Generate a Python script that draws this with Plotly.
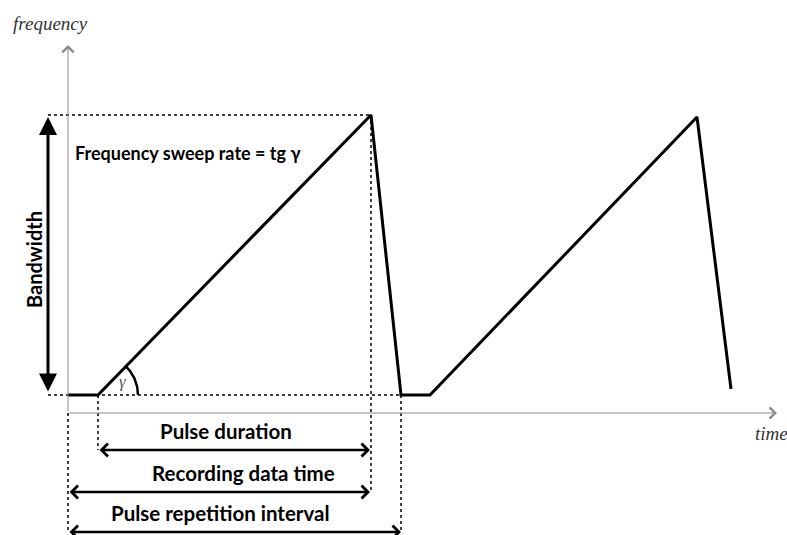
import numpy as np
import plotly.graph_objects as go

# chirp waveform (time, frequency) in drawing units
wave_t = [68, 98, 371, 401, 430, 697, 731]
wave_f = [140, 140, 420, 140, 140, 418, 146]

f_low, f_high = 140, 420
t_start, t_ramp, t_peak, t_end = 68, 98, 371, 401

# measurement arrows: (label, t_from, t_to, level)
spans = [
    ("Pulse duration", 98, 370, 85),
    ("Recording data time", 68, 370, 43),
    ("Pulse repetition interval", 68, 401, 3),
]
span_label_t = [226, 243, 220]
span_label_f = [104, 62, 22]

W, H = 787, 535
BOLD = "Lato"
SERIF = "Liberation Serif"

fig = go.Figure()

# dotted guide lines
dots = dict(color="black", width=1.5, dash="dot")
guides = [
    ((48, t_peak), (f_high, f_high)),
    ((48, t_end), (f_low, f_low)),
    ((t_start, t_start), (122, 3)),
    ((t_ramp, t_ramp), (f_low, 85)),
    ((t_peak, t_peak), (f_high, 43)),
    ((t_end, t_end), (f_low, 3)),
]
for xs, ys in guides:
    fig.add_trace(go.Scatter(x=list(xs), y=list(ys), mode="lines", line=dots,
                             hoverinfo="skip", showlegend=False))

# waveform
fig.add_trace(go.Scatter(x=wave_t, y=wave_f, mode="lines",
                         line=dict(color="black", width=3), showlegend=False))

# angle arc
r = 40
ang = np.arctan2(f_high - f_low, t_peak - t_ramp)
th = np.linspace(0, ang, 30)
fig.add_trace(go.Scatter(x=t_ramp + r * np.cos(th), y=f_low + r * np.sin(th), mode="lines",
                         line=dict(color="black", width=2.5), showlegend=False))


def arrow(x0, y0, x1, y1, head, width, color="black", size=1.0, both=False):
    fig.add_annotation(x=x1, y=y1, ax=x0, ay=y0, xref="x", yref="y", axref="x", ayref="y",
                       text="", showarrow=True, arrowhead=head, startarrowhead=head,
                       arrowwidth=width, arrowsize=size, startarrowsize=size,
                       arrowcolor=color, arrowside="end+start" if both else "end")


# axes
arrow(t_start, 122, 777, 122, 4, 1, "#8c8c8c", 2.2)
arrow(t_start, 122, t_start, 490, 4, 1, "#8c8c8c", 2.2)

# bandwidth arrow
arrow(48, 142, 48, 418, 2, 3, both=True, size=1.2)

for (label, a, b, lev), lt, lf in zip(spans, span_label_t, span_label_f):
    arrow(a, lev, b, lev, 4, 2.5, both=True)
    fig.add_annotation(x=lt, y=lf, text=f"<b>{label}</b>", showarrow=False,
                       font=dict(family=BOLD, size=20.5, color="black"))

fig.add_annotation(x=73, y=382, xanchor="left", text="<b>Frequency sweep rate = tg γ</b>",
                   showarrow=False, font=dict(family=BOLD, size=18, color="black"))
fig.add_annotation(x=34, y=275, text="<b>Bandwidth</b>", textangle=-90, showarrow=False,
                   font=dict(family=BOLD, size=20, color="black"))
fig.add_annotation(x=123, y=154, text="<i>γ</i>", showarrow=False,
                   font=dict(family=SERIF, size=17, color="#555"))
fig.add_annotation(x=50, y=512, text="<i>frequency</i>", showarrow=False,
                   font=dict(family=SERIF, size=19, color="#333"))
fig.add_annotation(x=771, y=102, text="<i>time</i>", showarrow=False,
                   font=dict(family=SERIF, size=19, color="#333"))

fig.update_layout(
    width=W, height=H,
    margin=dict(l=0, r=0, t=0, b=0),
    plot_bgcolor="white", paper_bgcolor="white",
    xaxis=dict(range=[0, W], visible=False, fixedrange=True),
    yaxis=dict(range=[0, H], visible=False, fixedrange=True),
    showlegend=False,
)

fig.write_html("out.html", config={"displayModeBar": False},
               post_script="document.body.style.margin='0';")
